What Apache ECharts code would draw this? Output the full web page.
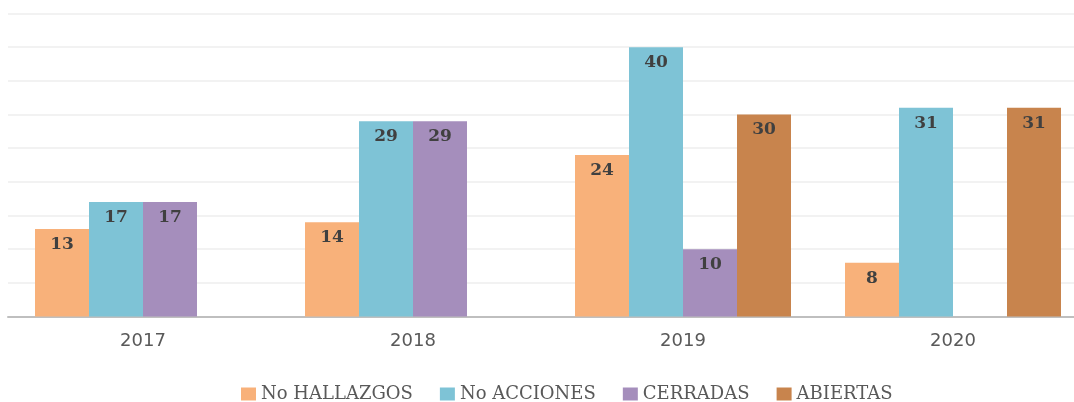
<!DOCTYPE html>
<html>
<head>
<meta charset="utf-8">
<script src="https://cdn.jsdelivr.net/npm/echarts@6/dist/echarts.min.js"></script>
<style>
  html, body { margin: 0; padding: 0; background: #fff; overflow: hidden; }
  /* the plot area of the original runs past the right edge, so the canvas is a bit wider than the window */
  #chart { width: 1088px; height: 402px; }
</style>
</head>
<body>
<div id="chart"></div>
<script>
const years = ['2017', '2018', '2019', '2020'];
const seriesNames = ['No HALLAZGOS', 'No ACCIONES', 'CERRADAS', 'ABIERTAS'];
const hallazgos = [13, 14, 24, 8];
const acciones = [17, 29, 40, 31];
const cerradas = [17, 29, 10, null];
const abiertas = [null, null, 30, 31];
const colors = ['#F8B17A', '#7EC3D6', '#A58EBC', '#C8844D'];

const chart = echarts.init(document.getElementById('chart'));

function makeSeries(name, data, color) {
    return {
        name: name,
        type: 'bar',
        data: data,
        barGap: '0%',
        barCategoryGap: '20%',
        itemStyle: { color: color },
        label: {
            show: true,
            position: 'insideTop',
            distance: 7,
            color: '#404040',
            fontFamily: 'DejaVu Serif',
            fontWeight: 'bold',
            fontSize: 17
        }
    };
}

chart.setOption({
    animation: false,
    color: colors,
    grid: { left: 8, right: 0, top: 13.5, bottom: 85.5 },
    legend: {
        left: 236,
        top: 380,
        itemWidth: 15,
        itemHeight: 13,
        itemGap: 27,
        icon: 'rect',
        textStyle: { color: '#595959', fontFamily: 'DejaVu Serif', fontSize: 18 },
        data: seriesNames
    },
    xAxis: {
        type: 'category',
        data: years,
        axisLine: { lineStyle: { color: '#BFBFBF', width: 2 } },
        axisTick: { show: false },
        axisLabel: { color: '#595959', fontFamily: 'DejaVu Sans', fontSize: 18, margin: 16 }
    },
    yAxis: {
        type: 'value',
        min: 0,
        max: 45,
        interval: 5,
        axisLabel: { show: false },
        axisLine: { show: false },
        axisTick: { show: false },
        splitLine: { lineStyle: { color: '#F2F2F2', width: 2 } }
    },
    series: [
        makeSeries(seriesNames[0], hallazgos, colors[0]),
        makeSeries(seriesNames[1], acciones, colors[1]),
        makeSeries(seriesNames[2], cerradas, colors[2]),
        makeSeries(seriesNames[3], abiertas, colors[3])
    ]
});
</script>
</body>
</html>
